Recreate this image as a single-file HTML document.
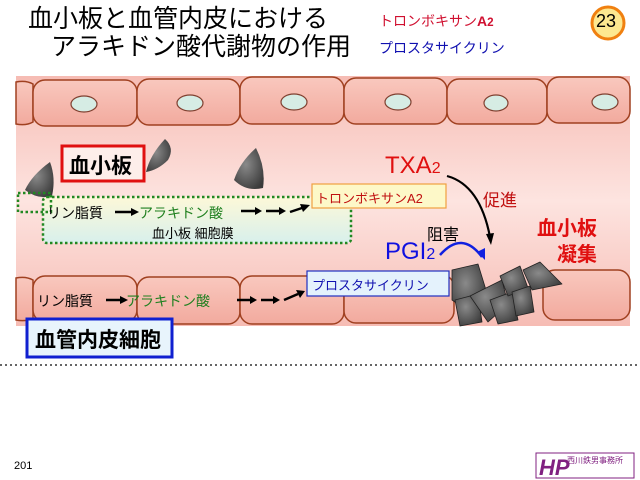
<!DOCTYPE html>
<html><head><meta charset="utf-8"><style>
body{margin:0;width:640px;height:480px;background:#fff;overflow:hidden;font-family:"Liberation Sans","Noto Sans CJK JP",sans-serif;position:relative}
.a{position:absolute;white-space:nowrap}
</style></head><body>
<svg class="a" style="left:0;top:0" width="640" height="480">
<defs>
<linearGradient id="lum" x1="0" y1="0" x2="0" y2="1"><stop offset="0" stop-color="#f6bcb4"/><stop offset="0.5" stop-color="#fde4e0"/><stop offset="1" stop-color="#f6bcb4"/></linearGradient>
<linearGradient id="cell" x1="0" y1="0" x2="0" y2="1"><stop offset="0" stop-color="#f9c8be"/><stop offset="1" stop-color="#f2aa9e"/></linearGradient>
<linearGradient id="mem" x1="0" y1="0" x2="0" y2="1"><stop offset="0" stop-color="#fdf8d8"/><stop offset="1" stop-color="#d8f0ec"/></linearGradient>
<radialGradient id="pl" cx="0.4" cy="0.4" r="0.7"><stop offset="0" stop-color="#8a8a8a"/><stop offset="1" stop-color="#3a3a3a"/></radialGradient>
</defs>
<rect x="16" y="76" width="614" height="250" fill="url(#lum)"/>
<g fill="url(#cell)" stroke="#a04020" stroke-width="1.5">
<path d="M16 82 Q26 80 33 84 L33 122 Q26 126 16 124Z"/>
<rect x="33" y="80" width="104" height="46" rx="12"/>
<rect x="137" y="79" width="103" height="46" rx="12"/>
<rect x="240" y="77" width="104" height="47" rx="12"/>
<rect x="344" y="78" width="103" height="46" rx="12"/>
<rect x="447" y="79" width="100" height="45" rx="12"/>
<rect x="547" y="77" width="83" height="46" rx="12"/>
<path d="M16 278 Q26 276 33 280 L33 318 Q26 322 16 320Z"/>
<rect x="33" y="276" width="104" height="46" rx="12"/>
<rect x="137" y="277" width="103" height="47" rx="12"/>
<rect x="240" y="276" width="104" height="48" rx="12"/>
<rect x="344" y="275" width="110" height="48" rx="12"/>
<rect x="543" y="270" width="87" height="50" rx="12"/>
</g>
<g fill="#d6ece4" stroke="#804030" stroke-width="1.2">
<ellipse cx="84" cy="104" rx="13" ry="8"/><ellipse cx="190" cy="103" rx="13" ry="8"/><ellipse cx="294" cy="102" rx="13" ry="8"/><ellipse cx="398" cy="102" rx="13" ry="8"/><ellipse cx="496" cy="103" rx="12" ry="8"/><ellipse cx="605" cy="102" rx="13" ry="8"/>
</g>
<g fill="url(#pl)">
<path d="M25 190 Q32 175 50 162 Q56 178 52 196 Q38 200 25 190Z"/>
<path d="M146 172 Q150 155 165 139 Q175 148 168 160 Q158 170 146 172Z"/>
<path d="M234 180 Q240 162 256 148 Q266 168 263 188 Q246 192 234 180Z"/>
</g>
<g fill="url(#pl)" stroke="#222" stroke-width="0.8" stroke-linejoin="round">
<path d="M452 270 L478 264 L486 290 L470 312 L452 300Z"/>
<path d="M455 300 L478 294 L482 322 L460 326Z"/>
<path d="M470 296 L502 280 L508 304 L488 322Z"/>
<path d="M490 300 L512 292 L518 320 L498 324Z"/>
<path d="M500 276 L520 266 L528 288 L508 296Z"/>
<path d="M512 292 L530 286 L534 312 L516 316Z"/>
<path d="M523 270 L540 262 L562 284 L532 290Z"/>
</g>
<rect x="43" y="197" width="308" height="46" rx="4" fill="url(#mem)" stroke="#228822" stroke-width="2.5" stroke-dasharray="2.5,2.5"/>
<rect x="18" y="193" width="33" height="19" fill="none" stroke="#228822" stroke-width="2.5" stroke-dasharray="2.5,2.5"/>
<rect x="62" y="146" width="82" height="35" fill="#fdeeea" stroke="#e01010" stroke-width="3"/>
<rect x="27" y="319" width="145" height="38" fill="#e8f4fc" stroke="#1020d0" stroke-width="3"/>
<rect x="312" y="184" width="134" height="24" fill="#fdf8c8" stroke="#f0a040" stroke-width="1.2"/>
<rect x="307" y="271" width="142" height="25" fill="#e4f2fc" stroke="#2030c0" stroke-width="1.2"/>
<g stroke="#000" stroke-width="2.5" fill="#000">
<path d="M115 212 H131"/><path d="M131 208 L139 212 L131 216Z" stroke="none"/>
<path d="M241 211 H255"/><path d="M255 207 L262 211 L255 215Z" stroke="none"/>
<path d="M266 211 H279"/><path d="M279 207 L286 211 L279 215Z" stroke="none"/>
<path d="M290 212 L302 208"/><path d="M300 204 L310 205 L303 212Z" stroke="none"/>
<path d="M106 300 H120"/><path d="M120 296 L128 300 L120 304Z" stroke="none"/>
<path d="M237 300 H250"/><path d="M250 296 L257 300 L250 304Z" stroke="none"/>
<path d="M261 300 H273"/><path d="M273 296 L280 300 L273 304Z" stroke="none"/>
<path d="M284 300 L298 294"/><path d="M296 290 L305 291 L300 298Z" stroke="none"/>
</g>
<path d="M447 176 Q480 185 490 237" stroke="#000" stroke-width="2.2" fill="none"/>
<path d="M486 234 L491 245 L494 233Z" fill="#000"/>
<path d="M440 255 Q462 230 482 257" stroke="#1020e0" stroke-width="2.5" fill="none"/>
<path d="M477 252 L485 260 L485 248Z" fill="#1020e0"/>
<line x1="0" y1="365" x2="640" y2="365" stroke="#333" stroke-width="1.5" stroke-dasharray="2,3"/>
<circle cx="608" cy="23" r="16" fill="#fde890" stroke="#f08010" stroke-width="3"/>
<rect x="536" y="453" width="98" height="25" fill="#fff" stroke="#802080"/>
<text x="539" y="475" font-size="22" font-weight="bold" font-style="italic" fill="#802080" font-family="Liberation Sans">HP</text>
</svg>
<div class="a" style="left:28px;top:5px;font-size:25px;line-height:28px;color:#000">血小板と血管内皮における</div>
<div class="a" style="left:51px;top:33px;font-size:25px;line-height:28px;color:#000">アラキドン酸代謝物の作用</div>
<div class="a" style="left:379px;top:11px;font-size:14px;color:#d01030">トロンボキサン<b>A<small>2</small></b></div>
<div class="a" style="left:379px;top:38px;font-size:14px;color:#1010b0">プロスタサイクリン</div>
<div class="a" style="left:596px;top:11px;font-size:18px">23</div>
<div class="a" style="left:69px;top:150px;font-size:21px;font-weight:bold">血小板</div>
<div class="a" style="left:35px;top:324px;font-size:21px;font-weight:bold">血管内皮細胞</div>
<div class="a" style="left:47px;top:203px;font-size:14px">リン脂質</div>
<div class="a" style="left:139px;top:203px;font-size:14px;color:#208020">アラキドン酸</div>
<div class="a" style="left:152px;top:223px;font-size:13px">血小板 細胞膜</div>
<div class="a" style="left:37px;top:291px;font-size:14px">リン脂質</div>
<div class="a" style="left:126px;top:291px;font-size:14px;color:#208020">アラキドン酸</div>
<div class="a" style="left:316px;top:188px;font-size:13px;color:#c01010">トロンボキサンA2</div>
<div class="a" style="left:312px;top:275px;font-size:13px;color:#1010b0">プロスタサイクリン</div>
<div class="a" style="left:385px;top:152px;font-size:24px;color:#e01010">TXA<span style="font-size:16px">2</span></div>
<div class="a" style="left:483px;top:186px;font-size:17px;color:#c01010">促進</div>
<div class="a" style="left:427px;top:221px;font-size:16px">阻害</div>
<div class="a" style="left:385px;top:238px;font-size:24px;color:#1010e0">PGI<span style="font-size:16px">2</span></div>
<div class="a" style="left:537px;top:216px;font-size:20px;font-weight:bold;color:#e01010;line-height:26px">血小板</div>
<div class="a" style="left:557px;top:242px;font-size:20px;font-weight:bold;color:#e01010;line-height:26px">凝集</div>
<div class="a" style="left:14px;top:460px;font-size:11px">201</div>
<div class="a" style="left:567px;top:455px;font-size:8px;color:#802080">西川鉄男事務所</div>
</body></html>
